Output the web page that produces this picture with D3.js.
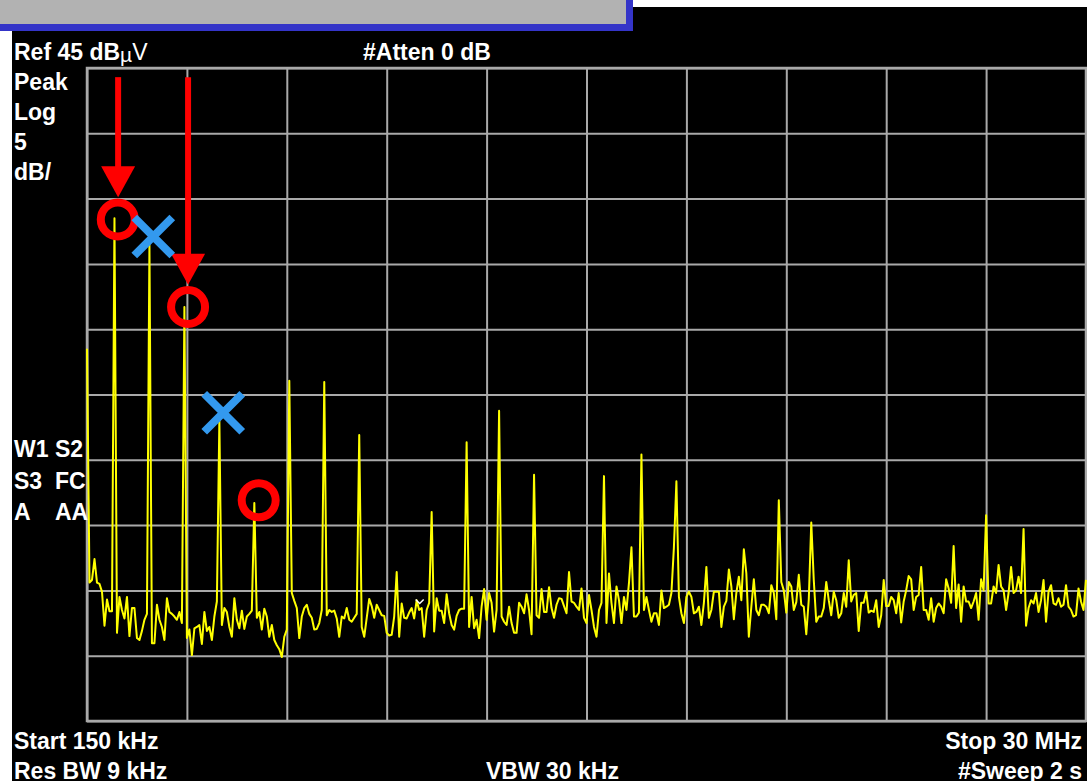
<!DOCTYPE html>
<html>
<head>
<meta charset="utf-8">
<script src="https://cdn.jsdelivr.net/npm/d3@7"></script>
<style>
    body { margin: 0; background: #fff; }
    svg { display: block; }
    text { font-family: "Liberation Sans", Arial, Helvetica, sans-serif; font-weight: bold; fill: #fff; }
</style>
</head>
<body>
<div id="chart"></div>
<script>
// sweep settings of the analyser
var startMHz = 0.15;
var stopMHz = 30;
var refLevel = 45;     // dBuV at top line
var dbPerDiv = 5;
var divisions = 10;

// trace, 401 sweep points, dBuV
var traceDb = [
    23.5, 5.6, 5.8, 7.4, 5.6, 5.5, 4.9, 2.3, 4.3, 3.4, 3.4, 33.5, 1.75, 4.5, 3.5, 2.85, 4.5, 1.5, 3.65, 3.65,
    1.35, 1.2, 1.9, 2.75, 3.2, 31.45, 0.95, 0.95, 3.9, 2.75, 2.2, 1.2, 4.4, 3.35, 3.2, 3.0, 2.75, 3.35, 2.5, 26.7,
    1.35, 2.0, 0.05, 2.1, 2.2, 2.35, 0.9, 3.35, 1.9, 2.2, 1.2, 3.0, 4.15, 18.0, 2.35, 3.65, 3.35, 2.2, 1.45, 4.4,
    2.75, 2.1, 3.45, 2.05, 3.0, 3.2, 3.45, 11.7, 2.9, 3.35, 2.0, 3.6, 3.0, 1.45, 2.35, 1.2, 0.8, 0.5, -0.1, 1.45,
    2.0, 21.05, 4.8, 4.2, 3.65, 1.35, 3.0, 3.65, 3.9, 3.2, 2.9, 2.0, 2.05, 2.5, 3.5, 20.95, 3.1, 3.5, 3.35, 3.45,
    2.85, 1.45, 3.0, 2.85, 3.65, 2.75, 2.6, 2.9, 3.2, 16.9, 2.2, 1.45, 2.9, 4.35, 3.8, 2.9, 3.9, 3.5, 3.1, 3.05,
    1.75, 1.55, 1.6, 3.0, 6.4, 1.45, 4.0, 2.9, 2.85, 3.3, 3.65, 2.85, 4.25, 3.5, 3.65, 1.45, 3.5, 4.05, 11.0, 1.85,
    4.4, 3.45, 3.45, 2.5, 4.7, 3.25, 2.35, 2.0, 3.05, 3.5, 3.6, 3.6, 16.35, 2.2, 4.5, 2.1, 2.75, 1.35, 3.75, 5.1,
    2.75, 4.8, 4.05, 1.85, 3.5, 18.75, 3.0, 2.6, 2.35, 3.75, 2.5, 1.75, 1.75, 4.05, 3.75, 3.25, 4.7, 3.5, 1.65, 13.85,
    3.1, 2.9, 5.1, 3.35, 3.35, 5.25, 3.65, 2.9, 3.9, 4.4, 4.35, 3.8, 3.25, 6.4, 4.15, 4.05, 3.75, 3.5, 5.15, 2.9,
    2.5, 4.65, 3.5, 2.2, 1.45, 3.5, 4.05, 13.75, 2.5, 6.3, 4.05, 2.5, 5.3, 4.25, 2.5, 4.5, 3.5, 5.55, 8.3, 3.0,
    3.0, 3.3, 15.4, 3.5, 4.5, 3.5, 2.6, 3.25, 3.25, 2.35, 5.0, 3.65, 3.75, 3.9, 4.8, 8.3, 13.35, 4.5, 3.25, 2.5,
    4.5, 4.9, 4.5, 3.25, 3.35, 3.75, 2.35, 4.05, 6.8, 2.9, 3.5, 4.9, 4.9, 4.9, 2.2, 3.75, 4.2, 6.6, 5.3, 2.8,
    4.8, 6.05, 4.25, 8.15, 6.3, 1.45, 3.75, 5.85, 3.5, 3.1, 3.9, 3.9, 3.75, 3.25, 5.4, 4.8, 2.8, 11.9, 5.65, 5.0,
    3.3, 5.65, 5.3, 3.5, 4.1, 6.2, 3.9, 3.75, 1.65, 4.3, 10.2, 5.8, 2.6, 3.0, 3.0, 3.65, 5.65, 4.25, 3.1, 4.9,
    4.25, 2.9, 3.25, 4.8, 3.75, 7.3, 4.15, 4.65, 4.8, 1.9, 4.05, 4.05, 4.9, 3.3, 3.45, 3.35, 4.25, 2.2, 3.1, 5.8,
    3.8, 3.8, 4.5, 4.25, 3.25, 4.8, 2.55, 4.15, 5.0, 6.1, 5.85, 3.5, 4.5, 4.65, 6.8, 3.5, 3.5, 2.75, 4.4, 2.6,
    3.65, 4.0, 3.75, 3.25, 5.85, 5.15, 4.05, 8.4, 3.65, 5.45, 2.6, 5.3, 4.15, 4.15, 3.65, 4.15, 4.8, 2.75, 5.85, 5.0,
    10.75, 4.0, 4.0, 5.3, 4.8, 6.95, 5.3, 5.0, 3.5, 4.8, 6.8, 4.8, 5.0, 6.05, 4.8, 9.7, 2.3, 3.65, 4.25, 4.0,
    4.8, 3.35, 4.25, 5.8, 2.6, 4.9, 5.4, 4.0, 3.9, 4.4, 3.75, 3.9, 5.4, 3.75, 3.5, 3.0, 3.1, 5.15, 4.15, 3.5,
    5.8
];

// annotations (MHz, dBuV)
var circleMarks = [
    { f: 1.07, db: 33.4 },
    { f: 3.17, db: 26.7 },
    { f: 5.28, db: 11.9 }
];
var crossMarks = [
    { f: 2.13, db: 32.1 },
    { f: 4.22, db: 18.6 }
];
var arrowMarks = [
    { f: 1.08, from: 44.3, to: 35.1 },
    { f: 3.17, from: 44.3, to: 28.4 }
];
var markerPoint = { f: 10.09, db: 4.0 };

// screen texts
var sideLabels = ['Peak', 'Log', '5', 'dB/'];
var statusLabels = [['W1', 'S2'], ['S3', 'FC'], ['A', 'AA']];
var footerLeft = ['Start 150 kHz', 'Res BW 9 kHz'];
var footerRight = ['Stop 30 MHz', '#Sweep 2 s'];
var footerMid = 'VBW 30 kHz';

var width = 1087, height = 784;
var plot = { left: 87, top: 68, right: 1086, bottom: 721 };
var gridColor = '#a9a9a9';

var svg = d3.select('#chart')
    .append('svg')
    .attr('width', width)
    .attr('height', height);

svg.append('rect').attr('width', width).attr('height', height).attr('fill', '#fff');
// screen area
svg.append('rect')
    .attr('x', 12).attr('y', 7)
    .attr('width', width - 12).attr('height', 774)
    .attr('fill', '#000');
// grey title box with blue shadow
svg.append('rect').attr('x', 0).attr('y', 24).attr('width', 633).attr('height', 7).attr('fill', '#3434c8');
svg.append('rect').attr('x', 626).attr('y', 0).attr('width', 7).attr('height', 31).attr('fill', '#3434c8');
svg.append('rect').attr('x', 0).attr('y', 0).attr('width', 626).attr('height', 24).attr('fill', '#b2b2b2');

var xScale = d3.scaleLinear()
    .domain([startMHz, stopMHz])
    .range([plot.left, plot.right]);
var yScale = d3.scaleLinear()
    .domain([refLevel - dbPerDiv * divisions, refLevel])
    .range([plot.bottom, plot.top]);

var xTicks = d3.range(divisions + 1).map(k => startMHz + k * (stopMHz - startMHz) / divisions);
var yTicks = d3.range(divisions + 1).map(k => refLevel - k * dbPerDiv);

// graticule
svg.append('g')
    .attr('transform', 'translate(0,' + plot.bottom + ')')
    .call(d3.axisBottom(xScale).tickValues(xTicks).tickSize(-(plot.bottom - plot.top)).tickFormat(''))
    .call(g => g.select('.domain').remove())
    .selectAll('line')
    .attr('stroke', gridColor)
    .attr('stroke-width', 2);

svg.append('g')
    .attr('transform', 'translate(' + plot.left + ',0)')
    .call(d3.axisLeft(yScale).tickValues(yTicks).tickSize(-(plot.right - plot.left)).tickFormat(''))
    .call(g => g.select('.domain').remove())
    .selectAll('line')
    .attr('stroke', gridColor)
    .attr('stroke-width', 2);

svg.append('rect')
    .attr('x', plot.left).attr('y', plot.top)
    .attr('width', plot.right - plot.left).attr('height', plot.bottom - plot.top)
    .attr('fill', 'none')
    .attr('stroke', gridColor)
    .attr('stroke-width', 2.5);

// trace
function freqAt(i) {
    return startMHz + i * (stopMHz - startMHz) / (traceDb.length - 1);
}
var line = d3.line()
    .x((d, i) => xScale(freqAt(i)))
    .y(d => yScale(d));

svg.append('path')
    .datum(traceDb)
    .attr('d', line)
    .attr('fill', 'none')
    .attr('stroke', '#ffff00')
    .attr('stroke-width', 2)
    .attr('stroke-linejoin', 'round');

// marker chevron
svg.append('path')
    .attr('transform', 'translate(' + xScale(markerPoint.f) + ',' + yScale(markerPoint.db) + ')')
    .attr('d', 'M-4,-4L0,0L4,-4')
    .attr('fill', 'none')
    .attr('stroke', '#fff')
    .attr('stroke-width', 1.5);

// red arrows
var arrows = svg.append('g').selectAll('g')
    .data(arrowMarks)
    .enter()
    .append('g');
arrows.append('line')
    .attr('x1', d => xScale(d.f)).attr('x2', d => xScale(d.f))
    .attr('y1', d => yScale(d.from))
    .attr('y2', d => yScale(d.to) - 28)
    .attr('stroke', '#ff0000')
    .attr('stroke-width', 6);
arrows.append('path')
    .attr('d', d => {
        let x = xScale(d.f), y = yScale(d.to);
        return 'M' + x + ',' + y + 'L' + (x - 17) + ',' + (y - 31) + 'L' + (x + 17) + ',' + (y - 31) + 'Z';
    })
    .attr('fill', '#ff0000');

// red rings
svg.append('g').selectAll('circle')
    .data(circleMarks)
    .enter()
    .append('circle')
    .attr('cx', d => xScale(d.f))
    .attr('cy', d => yScale(d.db))
    .attr('r', 17)
    .attr('fill', 'none')
    .attr('stroke', '#ff0000')
    .attr('stroke-width', 8);

// blue crosses
svg.append('g').selectAll('path')
    .data(crossMarks)
    .enter()
    .append('path')
    .attr('d', d => {
        let x = xScale(d.f), y = yScale(d.db), s = 19;
        return 'M' + (x - s) + ',' + (y - s) + 'L' + (x + s) + ',' + (y + s) +
            'M' + (x - s) + ',' + (y + s) + 'L' + (x + s) + ',' + (y - s);
    })
    .attr('stroke', '#3399ee')
    .attr('stroke-width', 8);

// texts
var fs = '23px';
var ref = svg.append('text').attr('x', 14).attr('y', 60).style('font-size', fs);
ref.append('tspan').text('Ref 45 dB');
ref.append('tspan').style('font-weight', 'normal').style('font-size', '21px').attr('dy', 2).text('\u00b5');
ref.append('tspan').style('font-weight', 'normal').attr('dy', -2).text('V');

svg.append('text').attr('x', 363).attr('y', 60).style('font-size', fs).text('#Atten 0 dB');

svg.selectAll('.side')
    .data(sideLabels)
    .enter()
    .append('text')
    .attr('class', 'side')
    .attr('x', 14)
    .attr('y', (d, i) => 90 + i * 30)
    .style('font-size', fs)
    .text(d => d);

statusLabels.forEach((row, i) => {
    row.forEach((t, j) => {
        svg.append('text')
            .attr('x', j == 0 ? 14 : 55)
            .attr('y', 457 + i * 31.5)
            .style('font-size', fs)
            .text(t);
    });
});

footerLeft.forEach((t, i) => {
    svg.append('text').attr('x', 14).attr('y', 749 + i * 30).style('font-size', fs).text(t);
});
footerRight.forEach((t, i) => {
    svg.append('text').attr('x', 1082).attr('y', 749 + i * 30)
        .style('text-anchor', 'end').style('font-size', fs).text(t);
});
svg.append('text').attr('x', 486).attr('y', 779).style('font-size', fs).text(footerMid);
</script>
</body>
</html>
